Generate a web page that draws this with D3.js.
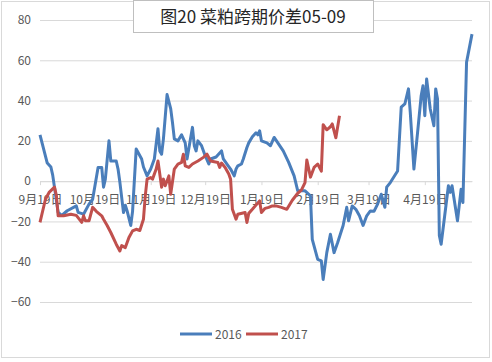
<!DOCTYPE html>
<html>
<head>
<meta charset="utf-8">
<script src="https://cdn.jsdelivr.net/npm/d3@7/dist/d3.min.js"></script>
<style>
    body { margin: 0; background: #fff; }
    svg text { font-family: "Noto Sans CJK SC", "Noto Sans", sans-serif; }
</style>
</head>
<body>
<div id="chart"></div>
<script>
// 2016 series (season Sep 2015 - May 2016, drawn on the same month-day axis)
var dates2016 = ["09-19","09-23","09-25","09-26","09-29","10-01","10-04","10-09","10-10","10-13",
    "10-16","10-18","10-21","10-23","10-24","10-25","10-27","10-28","10-31","11-01",
    "11-02","11-04","11-05","11-06","11-08","11-09","11-11","11-14","11-15","11-17",
    "11-19","11-21","11-23","11-24","11-25","11-26","11-28","11-30","12-01","12-02",
    "12-04","12-06","12-08","12-09","12-12","12-13","12-14","12-15","12-17","12-19",
    "12-21","12-22","12-25","12-28","12-29","12-31","01-02","01-04","01-05","01-06",
    "01-08","01-09","01-11","01-12","01-14","01-16","01-17","01-18","01-19","01-22",
    "01-24","01-26","01-31","02-03","02-06","02-08","02-12","02-15","02-16","02-19",
    "02-21","02-22","02-24","02-26","02-28","03-02","03-05","03-07","03-08","03-10",
    "03-12","03-14","03-16","03-18","03-20","03-22","03-24","03-26","03-28","03-29",
    "03-31","04-04","04-06","04-08","04-10","04-11","04-13","04-15","04-17","04-18",
    "04-19","04-20","04-22","04-24","04-25","04-26","04-27","04-28","05-02","05-03",
    "05-04","05-07","05-09","05-10","05-12","05-15"];
var values2016 = [23, 9, 7, 3, -15.5, -17, -14.7, -12.3, -15.5, -16.4,
    -11.4, -9, 6.8, 6.8, -3, 1, 20, 10, 10, 6,
    -0.5, -15.6, -12, -14.8, -22, -15, 16, 11, 7, 2.6,
    6, 11, 26, 15, 13.4, 21, 43, 36, 29, 21,
    20, 23, 19, 11, 26.7, 17.6, 15, 20, 17.6, 12.6,
    8.5, 11, 12, 15, 11, 8.5, 6, 2.6, 6, 7.6,
    8.5, 11, 16.7, 19, 22, 24, 23, 25, 20, 19,
    17.6, 21.7, 15, 9.3, 2.6, -4.8, -4.8, -7.3, -28.9, -38.8,
    -39.6, -48.8, -35.5, -26.4, -35.5, -30.5, -22, -13, -19.7, -12.3,
    -14, -17.2, -22, -17.2, -14.8, -15, -11.4, -6.5, -13, -3,
    -0.7, 5, 36.7, 38.3, 45.8, 34, 6, 24, 42.4, 47.4,
    32.5, 50.7, 35.8, 27.5, 45.8, 40.8, -27, -31.3, -2.3, -5.6,
    -2.3, -19.7, -4, -10.6, 59, 73];

// 2017 series (season Sep 2016 - Mar 2017)
var dates2017 = ["09-19","09-22","09-24","09-27","09-28","09-29","10-02","10-06","10-09","10-12",
    "10-13","10-14","10-16","10-18","10-20","10-23","10-24","10-26","10-28","10-31",
    "11-02","11-03","11-05","11-07","11-09","11-11","11-13","11-15","11-16","11-17",
    "11-19","11-20","11-22","11-23","11-25","11-26","11-27","11-29","11-30","12-02",
    "12-04","12-06","12-07","12-08","12-10","12-12","12-15","12-18","12-20","12-22",
    "12-26","12-27","12-28","12-30","01-01","01-02","01-03","01-05","01-06","01-10",
    "01-11","01-12","01-14","01-18","01-19","01-21","01-23","01-25","01-27","01-30",
    "02-02","02-05","02-08","02-10","02-12","02-13","02-15","02-17","02-19","02-21",
    "02-22","02-24","02-26","02-27","03-01","03-03"];
var values2017 = [-20.5, -9, -5.6, -3, -7, -17.2, -17.2, -16.4, -17, -20.5,
    -17.2, -19.7, -19.7, -13, -15, -17.2, -18.9, -22, -25.5, -31.3,
    -34.7, -32, -33, -28, -24.7, -23.9, -24.5, -18.9, -7.3, 1,
    1.8, 1, 6, 10, -3, 1, -2.3, 2.6, -6.5, 6,
    8.5, 9.3, 13.4, 7.6, 6.8, 8.5, 10, 11.8, 13.4, 10,
    9.3, 6.8, 9, 6.8, 3.5, 1, -14, -18.9, -16.4, -15.6,
    -20.5, -16, -14, -9.8, -15.6, -13.5, -13, -12.3, -12.3, -13,
    -14, -9.5, -6, -4.5, -0.7, 10.5, 2, 6.8, 8.5, 5,
    28, 25.5, 27, 28.4, 21.5, 32.5];

var yTicks = [-60, -40, -20, 0, 20, 40, 60, 80];
var xTickDates = ["09-19","10-19","11-19","12-19","01-19","02-19","03-19","04-19"];
var axisStart = "09-19", axisEnd = "05-15";

var seriesNames = ["2016", "2017"];
var colors = ["#4a7ebb", "#c0504d"];
var chartTitle = "图20 菜粕跨期价差05-09";

var width = 492, height = 362;

// month-day string -> date on a common Sep..May axis
function toDate(md) {
    var m = +md.slice(0, 2), d = +md.slice(3, 5);
    return new Date(m >= 9 ? 2016 : 2017, m - 1, d);
}

var series = [
    dates2016.map(function (d, i) { return { date: toDate(d), value: values2016[i] }; }),
    dates2017.map(function (d, i) { return { date: toDate(d), value: values2017[i] }; })
];

var xScale = d3.scaleTime()
    .domain([toDate(axisStart), toDate(axisEnd)])
    .range([40, 472]);
var yScale = d3.scaleLinear()
    .domain([-60, 80])
    .range([302, 20]);

var svg = d3.select("#chart").append("svg")
    .attr("width", width)
    .attr("height", height);

// outer frame
svg.append("rect")
    .attr("x", 1.5).attr("y", 1.5)
    .attr("width", 488).attr("height", 356)
    .attr("fill", "#fff")
    .attr("stroke", "#d9d9d9");

// y gridlines + labels
var yAxis = d3.axisLeft(yScale)
    .tickValues(yTicks)
    .tickSize(-(472 - 40))
    .tickPadding(9);
var yG = svg.append("g")
    .attr("transform", "translate(40,0)")
    .call(yAxis);
yG.select(".domain").remove();
yG.selectAll(".tick line").attr("stroke", "#d9d9d9");
yG.selectAll(".tick text")
    .attr("fill", "#595959")
    .style("font-size", "12px");

// x axis sits on the zero line
var xAxis = d3.axisBottom(xScale)
    .tickValues(xTickDates.map(toDate))
    .tickSize(4)
    .tickSizeOuter(0)
    .tickPadding(10)
    .tickFormat(function (d) { return (d.getMonth() + 1) + "月" + d.getDate() + "日"; });
var xG = svg.append("g")
    .attr("transform", "translate(0," + yScale(0) + ")")
    .call(xAxis);
xG.select(".domain").attr("stroke", "#d9d9d9");
xG.selectAll(".tick line").attr("stroke", "#d9d9d9");
xG.selectAll(".tick text")
    .attr("fill", "#595959")
    .style("font-size", "12px");

// lines
var line = d3.line()
    .x(function (d) { return xScale(d.date); })
    .y(function (d) { return yScale(d.value); });

svg.append("g").selectAll("path")
    .data(series)
    .enter().append("path")
    .attr("d", line)
    .attr("fill", "none")
    .attr("stroke", function (d, i) { return colors[i]; })
    .attr("stroke-width", 3)
    .attr("stroke-linejoin", "round");

// title box
svg.append("rect")
    .attr("x", 133.5).attr("y", 0.5)
    .attr("width", 240).attr("height", 32)
    .attr("fill", "#fff")
    .attr("stroke", "#bfbfbf");
svg.append("text")
    .attr("x", 253).attr("y", 23)
    .attr("text-anchor", "middle")
    .attr("fill", "#262626")
    .style("font-size", "17px")
    .text(chartTitle);

// legend
var legend = svg.append("g")
    .attr("transform", "translate(180,334)");
var items = legend.selectAll("g")
    .data(seriesNames)
    .enter().append("g")
    .attr("transform", function (d, i) { return "translate(" + (i * 66) + ",0)"; });
items.append("line")
    .attr("x1", 0).attr("x2", 32)
    .attr("stroke", function (d, i) { return colors[i]; })
    .attr("stroke-width", 3);
items.append("text")
    .attr("x", 35).attr("y", 4.5)
    .attr("fill", "#595959")
    .style("font-size", "12px")
    .text(function (d) { return d; });
</script>
</body>
</html>
